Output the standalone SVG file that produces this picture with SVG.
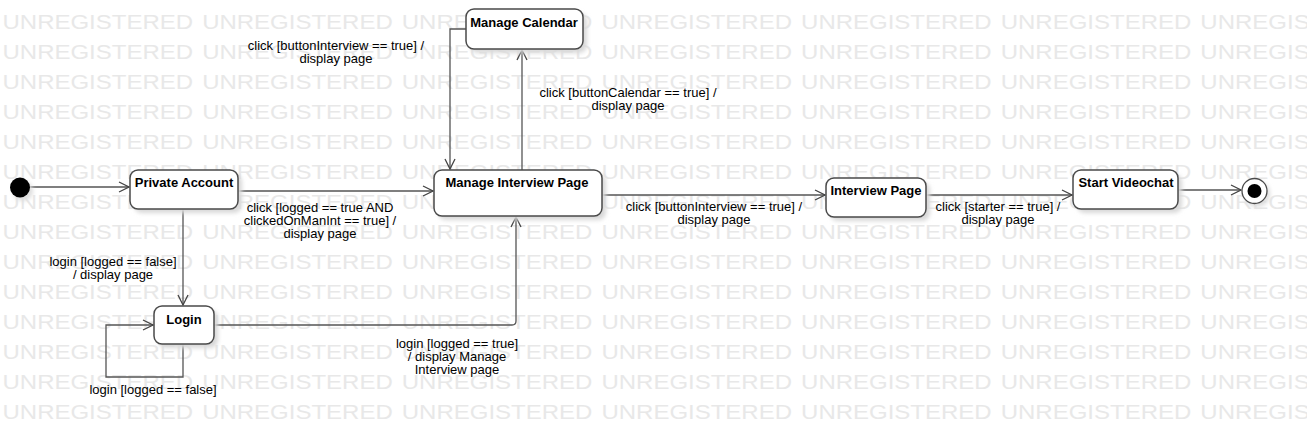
<svg xmlns="http://www.w3.org/2000/svg" width="1307" height="437" viewBox="0 0 1307 437">
<style>
.wm{font-family:"Liberation Sans",Arial,sans-serif;font-size:20px;fill:#e8e8e8;word-spacing:2px}
.node{fill:#fff;stroke:#4a4a4a;stroke-width:1.5}
.shadow{fill:#d8d8d8;filter:url(#blur)}
.title{font-family:"Liberation Sans",Arial,sans-serif;font-size:13px;font-weight:bold;fill:#000;text-anchor:middle}
.lbl{font-family:"Liberation Sans",Arial,sans-serif;font-size:13px;fill:#000;text-anchor:middle}
.edge{fill:none;stroke:#555;stroke-width:1.3;marker-end:url(#arr)}
</style>
<defs>
<filter id="blur" x="-20%" y="-20%" width="140%" height="140%"><feGaussianBlur stdDeviation="2"/></filter>
<marker id="arr" viewBox="0 0 12 12" refX="11" refY="6" markerWidth="12" markerHeight="12" markerUnits="userSpaceOnUse" orient="auto">
<path d="M1,1 L11,6 L1,11" fill="none" stroke="#444" stroke-width="1.3"/>
</marker>
</defs>
<rect width="1307" height="437" fill="#fff"/>
<g id="watermark" transform="translate(2.5 0) scale(1.2 1)">
<text class="wm" x="0" y="29">UNREGISTERED UNREGISTERED UNREGISTERED UNREGISTERED UNREGISTERED UNREGISTERED UNREGISTERED</text>
<text class="wm" x="0" y="59">UNREGISTERED UNREGISTERED UNREGISTERED UNREGISTERED UNREGISTERED UNREGISTERED UNREGISTERED</text>
<text class="wm" x="0" y="89">UNREGISTERED UNREGISTERED UNREGISTERED UNREGISTERED UNREGISTERED UNREGISTERED UNREGISTERED</text>
<text class="wm" x="0" y="119">UNREGISTERED UNREGISTERED UNREGISTERED UNREGISTERED UNREGISTERED UNREGISTERED UNREGISTERED</text>
<text class="wm" x="0" y="149">UNREGISTERED UNREGISTERED UNREGISTERED UNREGISTERED UNREGISTERED UNREGISTERED UNREGISTERED</text>
<text class="wm" x="0" y="179">UNREGISTERED UNREGISTERED UNREGISTERED UNREGISTERED UNREGISTERED UNREGISTERED UNREGISTERED</text>
<text class="wm" x="0" y="209">UNREGISTERED UNREGISTERED UNREGISTERED UNREGISTERED UNREGISTERED UNREGISTERED UNREGISTERED</text>
<text class="wm" x="0" y="239">UNREGISTERED UNREGISTERED UNREGISTERED UNREGISTERED UNREGISTERED UNREGISTERED UNREGISTERED</text>
<text class="wm" x="0" y="269">UNREGISTERED UNREGISTERED UNREGISTERED UNREGISTERED UNREGISTERED UNREGISTERED UNREGISTERED</text>
<text class="wm" x="0" y="299">UNREGISTERED UNREGISTERED UNREGISTERED UNREGISTERED UNREGISTERED UNREGISTERED UNREGISTERED</text>
<text class="wm" x="0" y="329">UNREGISTERED UNREGISTERED UNREGISTERED UNREGISTERED UNREGISTERED UNREGISTERED UNREGISTERED</text>
<text class="wm" x="0" y="359">UNREGISTERED UNREGISTERED UNREGISTERED UNREGISTERED UNREGISTERED UNREGISTERED UNREGISTERED</text>
<text class="wm" x="0" y="389">UNREGISTERED UNREGISTERED UNREGISTERED UNREGISTERED UNREGISTERED UNREGISTERED UNREGISTERED</text>
<text class="wm" x="0" y="419">UNREGISTERED UNREGISTERED UNREGISTERED UNREGISTERED UNREGISTERED UNREGISTERED UNREGISTERED</text>
</g>
<g id="connectors">
<path class="edge" d="M30,187 L129,187"/>
<path class="edge" d="M238,191 L433,191"/>
<path class="edge" d="M466,29 L450,29 L450,169"/>
<path class="edge" d="M522,170 L522,50"/>
<path class="edge" d="M183,209 L183,305"/>
<path class="edge" d="M183,344 L183,377 L106,377 L106,325 L153,325"/>
<path class="edge" d="M214,325 L512,325 Q516,325 516,321 L516,217"/>
<path class="edge" d="M602,195 L825,195"/>
<path class="edge" d="M926,195 L1072,195"/>
<path class="edge" d="M1178,190 L1241,190"/>
<text class="lbl" x="336" y="50">click [buttonInterview == true] /</text>
<text class="lbl" x="336" y="63">display page</text>
<text class="lbl" x="628" y="97">click [buttonCalendar == true] /</text>
<text class="lbl" x="628" y="110">display page</text>
<text class="lbl" x="320" y="212">click [logged == true AND</text>
<text class="lbl" x="320" y="225">clickedOnManInt == true] /</text>
<text class="lbl" x="320" y="238">display page</text>
<text class="lbl" x="113" y="266">login [logged == false]</text>
<text class="lbl" x="113" y="279">/ display page</text>
<text class="lbl" x="153" y="394">login [logged == false]</text>
<text class="lbl" x="457" y="348">login [logged == true]</text>
<text class="lbl" x="457" y="361">/ display Manage</text>
<text class="lbl" x="457" y="374">Interview page</text>
<text class="lbl" x="714" y="211">click [buttonInterview == true] /</text>
<text class="lbl" x="714" y="224">display page</text>
<text class="lbl" x="998" y="211">click [starter == true] /</text>
<text class="lbl" x="998" y="224">display page</text>
</g>
<g id="initial">
<circle cx="23" cy="191" r="10" fill="#ddd" filter="url(#blur)"/>
<circle cx="20" cy="187.5" r="10" fill="#000"/>
</g>
<g id="private-account">
<rect class="shadow" x="134" y="174" width="108" height="39" rx="8"/>
<rect class="node" x="130" y="170" width="108" height="39" rx="8"/>
<text class="title" x="184" y="187">Private Account</text>
</g>
<g id="manage-calendar">
<rect class="shadow" x="470" y="13" width="117" height="40" rx="8"/>
<rect class="node" x="466" y="9" width="117" height="40" rx="8"/>
<text class="title" x="524" y="27">Manage Calendar</text>
</g>
<g id="manage-interview-page">
<rect class="shadow" x="438" y="174" width="168" height="46" rx="8"/>
<rect class="node" x="434" y="170" width="168" height="46" rx="8"/>
<text class="title" x="517" y="187">Manage Interview Page</text>
</g>
<g id="login">
<rect class="shadow" x="158" y="310" width="60" height="38" rx="8"/>
<rect class="node" x="154" y="306" width="60" height="38" rx="8"/>
<text class="title" x="184" y="324">Login</text>
</g>
<g id="interview-page">
<rect class="shadow" x="830" y="182" width="100" height="39" rx="8"/>
<rect class="node" x="826" y="178" width="100" height="39" rx="8"/>
<text class="title" x="876" y="195">Interview Page</text>
</g>
<g id="start-videochat">
<rect class="shadow" x="1077" y="174" width="105" height="39" rx="8"/>
<rect class="node" x="1073" y="170" width="105" height="39" rx="8"/>
<text class="title" x="1126" y="187">Start Videochat</text>
</g>
<g id="final">
<circle cx="1257" cy="194" r="13" fill="#ddd" filter="url(#blur)"/>
<circle cx="1254.5" cy="191" r="12.5" fill="#fff" stroke="#4a4a4a" stroke-width="1.3"/>
<circle cx="1254.5" cy="191" r="7" fill="#000"/>
</g>
</svg>
